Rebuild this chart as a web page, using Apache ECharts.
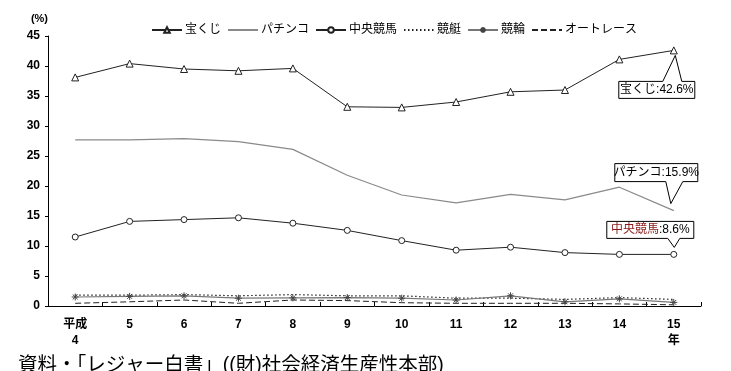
<!DOCTYPE html>
<html><head><meta charset="utf-8">
<script src="https://cdn.jsdelivr.net/npm/echarts@6/dist/echarts.min.js"></script>
<style>html,body{margin:0;padding:0;background:#fff}#c{width:731px;height:371px}</style>
</head><body><div id="c"></div>
<script>
const categories = ['平成\n4','5','6','7','8','9','10','11','12','13','14','15\n年'];
const takarakuji = [38.1,40.4,39.5,39.2,39.6,33.2,33.1,34.0,35.7,36.0,41.1,42.6];
const pachinko   = [27.7,27.7,27.9,27.4,26.1,21.8,18.5,17.2,18.6,17.7,19.8,15.9];
const chuoKeiba  = [11.5,14.1,14.4,14.7,13.8,12.6,10.9,9.3,9.8,8.9,8.6,8.6];
const kyotei     = [1.8,1.8,1.9,1.7,1.9,1.7,1.7,1.3,1.3,1.1,1.4,1.1];
const keirin     = [1.5,1.6,1.7,1.3,1.35,1.4,1.3,1.0,1.7,0.7,1.2,0.6];
const autorace   = [0.45,0.7,1.0,0.45,1.0,0.9,0.55,0.45,0.45,0.45,0.35,0.2];
const seriesNames = ['宝くじ','パチンコ','中央競馬','競艇','競輪','オートレース'];
const yMin = 0, yMax = 45, yStep = 5;
const sourceText = '資料・「レジャー白書」((財)社会経済生産性本部)';

const FF = "'Liberation Sans','Noto Sans CJK JP',sans-serif";
const chart = echarts.init(document.getElementById('c'), null, {renderer:'canvas'});
const asterisk = 'path://M0,5L10,5M5,0L5,10M1.5,1.5L8.5,8.5M8.5,1.5L1.5,8.5';
const noSymbol = new Set(['パチンコ','競艇','オートレース']);

const option = {
  animation:false,
  backgroundColor:'#fff',
  textStyle:{fontFamily:FF},
  grid:{left:48,right:30,top:36,bottom:65,containLabel:false},
  legend:{
    left:146, top:19, itemWidth:30, itemHeight:7, itemGap:6,
    textStyle:{fontSize:12, color:'#000', fontFamily:FF, padding:[0,0,0,-2]},
    data:seriesNames.map(n => noSymbol.has(n) ? {name:n, itemStyle:{opacity:0}} : {name:n})
  },
  xAxis:{
    type:'category', data:categories, boundaryGap:true,
    axisLine:{lineStyle:{color:'#000',width:1}},
    axisTick:{show:true, inside:true, length:4, lineStyle:{color:'#000'}},
    axisLabel:{fontSize:12, fontWeight:'bold', color:'#000', lineHeight:16, margin:11, fontFamily:FF},
    splitLine:{show:false}
  },
  yAxis:{
    type:'value', min:yMin, max:yMax, interval:yStep,
    name:'(%)', nameLocation:'end', nameGap:12,
    nameTextStyle:{fontSize:11, color:'#000', fontWeight:'bold', align:'right'},
    axisLine:{show:true, lineStyle:{color:'#000',width:1}},
    axisTick:{show:true, length:3, lineStyle:{color:'#000'}},
    axisLabel:{fontSize:12, fontWeight:'bold', color:'#000', margin:8, fontFamily:FF},
    splitLine:{show:false}
  },
  series:[
    {name:seriesNames[0], type:'line', data:takarakuji, symbol:'triangle', symbolSize:7, showAllSymbol:true,
     lineStyle:{color:'#222',width:1}, itemStyle:{color:'#fff',borderColor:'#222',borderWidth:1}, z:5},
    {name:seriesNames[1], type:'line', data:pachinko, symbol:'none', showSymbol:false,
     lineStyle:{color:'#8a8a8a',width:1.2}, itemStyle:{color:'#8a8a8a'}},
    {name:seriesNames[2], type:'line', data:chuoKeiba, symbol:'circle', symbolSize:6,
     lineStyle:{color:'#222',width:1}, itemStyle:{color:'#fff',borderColor:'#222',borderWidth:1}, z:5},
    {name:seriesNames[3], type:'line', data:kyotei, symbol:'none', showSymbol:false,
     lineStyle:{color:'#222',width:1.2,type:[1.5,2.5]}, itemStyle:{color:'#222'}},
    {name:seriesNames[4], type:'line', data:keirin, symbol:asterisk, symbolSize:7,
     lineStyle:{color:'#777',width:1.2}, itemStyle:{color:'#fff',borderColor:'#444',borderWidth:1}, z:4},
    {name:seriesNames[5], type:'line', data:autorace, symbol:'none', showSymbol:false,
     lineStyle:{color:'#222',width:1,type:[6,3]}, itemStyle:{color:'#222'}}
  ],
  graphic:[
    {type:'text', left:18, top:356, style:{text:sourceText, fontSize:19.5, fill:'#000', fontFamily:FF}}
  ]
};
chart.setOption(option);

// callouts anchored on the last data point of each series
function callout(seriesIndex, labelColor, box, base, apex, pointerTop){
  const data = option.series[seriesIndex].data;
  const idx = data.length - 1;
  const p = chart.convertToPixel({seriesIndex:seriesIndex}, [idx, data[idx]]);
  const x1 = p[0]+box[0], x2 = p[0]+box[1], y1 = p[1]+box[2], y2 = p[1]+box[3];
  const bx1 = p[0]+base[0], bx2 = p[0]+base[1];
  const ax = p[0]+apex[0], ay = p[1]+apex[1];
  let pts;
  if (pointerTop) pts = [[x1,y1],[bx1,y1],[ax,ay],[bx2,y1],[x2,y1],[x2,y2],[x1,y2]];
  else pts = [[x1,y1],[x2,y1],[x2,y2],[bx2,y2],[ax,ay],[bx1,y2],[x1,y2]];
  return [
    {type:'polygon', shape:{points:pts}, style:{fill:'#fff', stroke:'#000', lineWidth:1}, z:100},
    {type:'text', x:(x1+x2)/2, y:(y1+y2)/2, z:101,
     style:{text:'{a|'+seriesNames[seriesIndex]+'}{b|:'+data[idx].toFixed(1)+'%}', align:'center', verticalAlign:'middle',
       rich:{a:{fontSize:12, fill:labelColor, fontFamily:FF}, b:{fontSize:12, fill:'#000', fontFamily:FF}}}}
  ];
}
const g = [].concat(
  callout(0, '#000', [-55,21,31,48], [-11,8], [1.5,5], true),
  callout(1, '#000', [-59,24,-47,-29], [-8,9], [-3,-7], false),
  callout(2, '#8b1a1a', [-67,20,-33,-16], [-6,6], [0.5,-7], false)
);
chart.setOption({graphic: option.graphic.concat(g)});
</script></body></html>
